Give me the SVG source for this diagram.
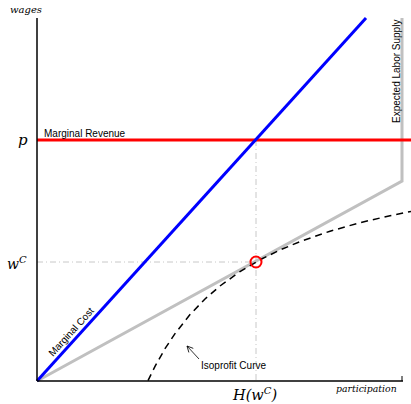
<svg xmlns="http://www.w3.org/2000/svg" width="411" height="404" viewBox="0 0 411 404">
<style>
.math{font-family:"DejaVu Serif","Liberation Serif",serif;font-style:italic;fill:#000}
.lbl{font-family:"Liberation Sans",Arial,sans-serif;font-size:10px;fill:#000}
.guide{stroke:#c8c8c8;stroke-width:1;stroke-dasharray:6,3,1,3;fill:none}
</style>
<defs>
<marker id="ah" markerWidth="8" markerHeight="8" refX="1" refY="4" orient="auto" markerUnits="userSpaceOnUse">
<path d="M7,1 L1,4 L7,7" fill="none" stroke="#000" stroke-width="0.8"/>
</marker>
</defs>
<rect width="411" height="404" fill="#fff"/>
<g id="connectors">
<line class="guide" x1="256" y1="140" x2="256" y2="381"/>
<line class="guide" x1="37" y1="262" x2="256" y2="262"/>
<polyline id="supply" points="37,381 402,181 402,18" fill="none" stroke="#c0c0c0" stroke-width="3"/>
<line id="mr" x1="37" y1="140" x2="411" y2="140" stroke="#ff0000" stroke-width="3"/>
<line id="mc" x1="37" y1="381" x2="366" y2="18" stroke="#0000ff" stroke-width="3"/>
<polyline id="iso" points="148,380.7 155,366.4 165,348.7 175,333.6 190,314.6 205,299 220,286 240,271.6 260,259.8 280,250 300,241.6 330,231.2 360,222.7 390,215.7 411,211.4" fill="none" stroke="#000" stroke-width="1.5" stroke-dasharray="7,5"/>
<line x1="187" y1="346" x2="199" y2="359" stroke="#000" stroke-width="0.8" marker-start="url(#ah)"/>
<line x1="37" y1="18" x2="37" y2="381" stroke="#000" stroke-width="1.5"/>
<line x1="37" y1="381" x2="403" y2="381" stroke="#000" stroke-width="1.5"/>
<line x1="402" y1="381" x2="402" y2="376" stroke="#000" stroke-width="1"/>
</g>
<g id="eq"><circle cx="256" cy="262" r="5.5" fill="none" stroke="#ff0000" stroke-width="2"/></g>
<g id="labels">
<text class="math" x="10" y="13" font-size="10">wages</text>
<text class="math" x="18" y="145" font-size="15">p</text>
<text class="math" x="7" y="269" font-size="14">w<tspan dy="-6" font-size="10">C</tspan></text>
<text class="math" x="233" y="400" font-size="14.5">H(w<tspan dy="-6" font-size="10">C</tspan><tspan dy="6">)</tspan></text>
<text class="math" x="336" y="392" font-size="9.3">participation</text>
<text class="lbl" x="44" y="137">Marginal Revenue</text>
<text class="lbl" transform="translate(53,357) rotate(-47.8)">Marginal Cost</text>
<text class="lbl" x="201" y="369">Isoprofit Curve</text>
<text class="lbl" font-size="9.5" transform="translate(400,123) rotate(-90)">Expected Labor Supply</text>
</g>
</svg>
